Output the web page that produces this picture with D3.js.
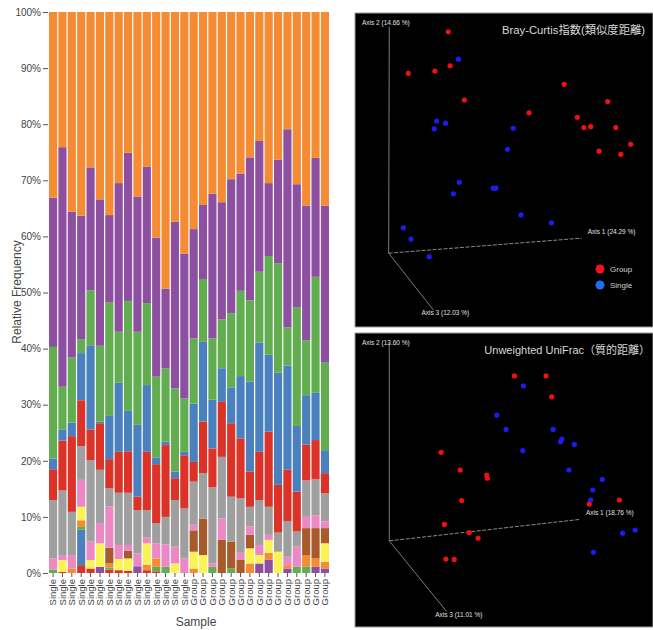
<!DOCTYPE html>
<html>
<head>
<meta charset="utf-8">
<script src="https://cdn.jsdelivr.net/npm/d3@7"></script>
<style>
  body { margin: 0; background: #fff; }
  text { font-family: "Liberation Sans", Arial, sans-serif; }
</style>
</head>
<body>
<div id="chart"></div>
<script>
// ---------------- data ----------------
// sample labels (x axis)
const samples = ["Single","Single","Single","Single","Single","Single","Single","Single","Single","Single","Single","Single","Single","Single","Single",
                 "Group","Group","Group","Group","Group","Group","Group","Group","Group","Group","Group","Group","Group","Group","Group"];

// taxa, bottom -> top of each stack (values in %)
const purpleMinor = [0,0,0,0,0,1.1,0,0,0,1.2,0,0,0,0,0,0,0,0,0,0,0,0,1.7,2.4,0,0.8,0,0,1.1,0.8];
const redMinor    = [0,0.2,0,1.4,0.8,0,0.6,0.5,0.4,0,0.5,0.3,0,0,0,0,0,0,0,0,0,0,0,0,0,0,0,0,0,0];
const blueMinor   = [0,0,0,6.3,0,0,0,0,0,0,0,0,0,0,0,0,0,0,0,0,0,0,0,0,0,0,0,0,0,0];
const greenMinor  = [0.6,0,0,0.5,0,0,0.4,0,0,0,0,0.8,1.1,0,0,0,0,1.1,0,0.8,0,0,0,0,0,0,1.1,1.1,0,0];
const orangeMinor = [0,0,0.8,1.2,0,0,0.7,0,0,0,1.0,1.5,0,0,0,0.8,0,0,0,0,0,1.7,0,1.2,0,0.6,0,2.1,1.5,1.2];
const yellow      = [0,2.1,0,2.4,1.5,4.2,0,2.0,2.2,0,3.8,0,0,1.7,0,3.0,3.2,0,0,0,0,2.7,1.5,2.3,3.8,0,0,0,0,3.3];
const brown       = [0,0,0,0,0,0,2.8,0,1.4,0,0,0,0,0,0,3.8,6.5,0,5.9,4.8,2.4,2.4,0,0,0,0,0,4.8,5.4,2.7];
const pink        = [2.0,0.9,2.4,4.8,3.3,3.6,7.4,2.5,1.0,2.3,1.0,2.7,4.0,3.0,2.6,1.0,0,0.6,3.8,0,1.2,1.5,1.8,0.9,0,1.5,3.6,2.0,2.3,1.2];
const gray        = [10.4,11.5,7.7,6.0,14.5,9.5,3.2,9.3,9.3,7.7,4.9,3.6,4.9,8.3,8.9,7.7,8.1,13.6,11.0,8.0,9.7,3.5,8.0,5.0,3.4,6.3,2.7,6.5,6.4,5.0];
const red         = [5.5,8.9,13.5,8.2,5.5,8.3,5.2,7.3,7.4,2.4,10.4,10.5,12.8,3.9,9.5,3.5,9.2,6.9,9.8,13.1,10.7,6.3,8.6,13.4,8.5,9.2,7.1,6.4,7.0,3.6];
const blue        = [1.9,2.0,2.4,8.4,15.0,0.3,7.7,12.3,7.2,12.8,11.9,1.2,0.6,1.2,0.6,10.4,14.2,8.7,6.0,6.4,11.1,16.0,19.5,13.7,20.0,18.6,11.7,8.8,8.5,4.1];
const green       = [19.9,7.6,11.6,2.5,9.8,13.5,20.2,9.1,19.6,16.6,14.6,14.4,13.1,14.8,9.5,11.6,11.2,10.9,8.7,13.2,15.2,14.5,12.6,17.6,19.5,6.8,21.2,9.8,20.6,15.6];
const purple      = [26.6,42.7,26.0,22.0,21.9,26.1,15.6,26.5,26.4,24.1,24.3,24.8,14.2,29.7,25.8,19.5,13.2,25.8,20.9,23.9,20.9,25.5,23.3,13.0,18.5,35.3,21.9,24.0,21.2,28.0];
const orange      = [33.1,24.1,35.6,36.3,27.7,33.4,36.2,30.5,25.1,32.9,27.6,40.2,49.3,37.4,43.1,38.7,34.4,32.4,33.9,29.8,28.8,25.9,23.0,30.5,26.3,20.9,30.7,34.5,26.0,34.5];

const yTicks = [0,0.1,0.2,0.3,0.4,0.5,0.6,0.7,0.8,0.9,1];

// PCoA projections (position in panel, 0-100 across / 0-100 up)
const bcGroupX  = [31.3,17.9,26.8,31.9,36.7,70.2,58.4,74.6,76.8,79.1,84.8,87.5,92.5,81.9,89.2];
const bcGroupY  = [94.0,80.8,81.5,83.2,72.3,77.3,68.2,66.8,63.5,63.8,71.8,63.5,58.2,56.0,55.0];
const bcSingleX = [34.7,27.4,30.4,26.6,53.1,51.2,35.0,33.0,46.4,47.3,55.7,65.9,16.2,18.8,24.9];
const bcSingleY = [85.3,65.6,64.9,63.1,63.3,56.6,46.1,42.4,44.2,44.2,35.7,33.2,31.6,28.0,22.4];

const ufGroupX  = [53.5,64.1,66.0,28.9,35.3,44.2,44.4,35.8,88.7,78.6,30.0,38.3,41.3,30.5,33.3];
const ufGroupY  = [85.4,85.4,78.3,59.4,53.4,51.7,50.6,43.0,43.2,41.8,34.9,32.1,30.2,23.1,23.0];
const ufSingleX = [56.5,47.6,50.7,66.5,69.4,69.0,73.6,56.3,71.8,83.0,79.8,79.1,89.8,94.0,80.0];
const ufSingleY = [82.0,72.1,67.2,67.2,63.9,63.0,62.1,60.0,53.4,50.2,46.6,43.2,31.9,33.0,25.4];

// ---------------- setup ----------------
const width = 653, height = 630;
const svg = d3.select("#chart").append("svg")
              .attr("width", width)
              .attr("height", height);

////////////////// stacked bar chart ////////////////////////////////////

const keys = ["purpleMinor","redMinor","blueMinor","greenMinor","orangeMinor","yellow","brown","pink","gray","red","blue","green","purple","orange"];
const series = {purpleMinor, redMinor, blueMinor, greenMinor, orangeMinor, yellow, brown, pink, gray, red, blue, green, purple, orange};
const colors = {
  purpleMinor: "#8d4f9f", redMinor: "#dc3329", blueMinor: "#4a80be", greenMinor: "#61ad50",
  orangeMinor: "#f58b32", yellow: "#fbf255", brown: "#a85a2a", pink: "#ec89c4",
  gray: "#9f9f9f", red: "#dc3329", blue: "#4a80be", green: "#61ad50",
  purple: "#8d4f9f", orange: "#f58b32"
};

// one row per sample
let rows = samples.map(function(s, i) {
  let r = {idx: i, sample: s};
  keys.forEach(function(k) { r[k] = series[k][i] / 100; });
  return r;
});

let x = d3.scaleBand()
          .domain(rows.map(function(d) { return d.idx }))
          .range([49, 329])
          .paddingInner(0.13)
          .paddingOuter(0);
let y = d3.scaleLinear()
          .domain([0, 1])
          .range([573, 12]);

let stacked = d3.stack().keys(keys)(rows);

let bars = svg.append("g");
bars.selectAll("g")
    .data(stacked)
    .enter()
    .append("g")
    .attr("fill", function(d) { return colors[d.key] })
    .selectAll("rect")
    .data(function(d) { return d })
    .enter()
    .append("rect")
    .attr("x", function(d) { return x(d.data.idx) })
    .attr("y", function(d) { return y(Math.min(d[1], 1)) })
    .attr("width", x.bandwidth())
    .attr("height", function(d) { return Math.max(0, y(d[0]) - y(Math.min(d[1], 1))) });

// y axis
let yAxis = svg.append("g")
               .attr("transform", "translate(48,0)")
               .call(d3.axisLeft(y)
                       .tickValues(yTicks)
                       .tickFormat(d3.format(".0%"))
                       .tickSize(5)
                       .tickPadding(2));
yAxis.select(".domain").remove();
yAxis.selectAll("line").attr("stroke", "#555");
yAxis.selectAll("text").attr("fill", "#444").style("font-size", "10px");

// x axis
let xAxis = svg.append("g")
               .attr("transform", "translate(0,573)")
               .call(d3.axisBottom(x)
                       .tickSize(4)
                       .tickFormat(function(i) { return samples[i] }));
xAxis.select(".domain").remove();
xAxis.selectAll("line").attr("stroke", "#555");
xAxis.selectAll("text")
     .attr("transform", "rotate(-90)")
     .attr("x", -6)
     .attr("y", 0)
     .attr("dy", "0.35em")
     .style("text-anchor", "end")
     .style("font-size", "9.5px")
     .attr("fill", "#444");

// axis titles
svg.append("text")
   .attr("transform", "translate(21,292) rotate(-90)")
   .style("text-anchor", "middle")
   .style("font-size", "12px")
   .attr("fill", "#444")
   .text("Relative Frequency");
svg.append("text")
   .attr("x", 196)
   .attr("y", 626)
   .style("text-anchor", "middle")
   .style("font-size", "12px")
   .attr("fill", "#444")
   .text("Sample");

////////////////// PCoA panels ////////////////////////////////////

function drawPanel(cfg) {
  let px = d3.scaleLinear().domain([0, 100]).range([cfg.left, cfg.right]);
  let py = d3.scaleLinear().domain([0, 100]).range([cfg.bottom, cfg.top]);
  let g = svg.append("g");

  g.append("rect")
   .attr("x", cfg.left).attr("y", cfg.top)
   .attr("width", cfg.right - cfg.left).attr("height", cfg.bottom - cfg.top)
   .attr("fill", "#000")
   .attr("stroke", "#9a9a9a")
   .attr("stroke-width", 1);

  // axes of the 3D view
  let o = cfg.origin;
  g.append("line")
   .attr("x1", px(o[0])).attr("y1", py(o[1]))
   .attr("x2", px(cfg.axis2[0])).attr("y2", py(cfg.axis2[1]))
   .attr("stroke", "#8a8a8a").attr("stroke-width", 0.9);
  g.append("line")
   .attr("x1", px(o[0])).attr("y1", py(o[1]))
   .attr("x2", px(cfg.axis1[0])).attr("y2", py(cfg.axis1[1]))
   .attr("stroke", "#9a9a9a").attr("stroke-width", 0.9)
   .attr("stroke-dasharray", "4,1.5");
  g.append("line")
   .attr("x1", px(o[0])).attr("y1", py(o[1]))
   .attr("x2", px(cfg.axis3[0])).attr("y2", py(cfg.axis3[1]))
   .attr("stroke", "#8a8a8a").attr("stroke-width", 0.9);

  // axis labels
  let small = function(t, xx, yy, anchor) {
    g.append("text")
     .attr("x", xx).attr("y", yy)
     .style("font-size", "6.5px")
     .style("text-anchor", anchor || "start")
     .attr("fill", "#e0e0e0")
     .text(t);
  };
  small(cfg.axis2Label, cfg.left + 7, cfg.top + 12);
  small(cfg.axis1Label, px(cfg.axis1[0]) + 6, py(cfg.axis1[1]) - 4);
  small(cfg.axis3Label, px(cfg.axis3[0]) + 12, py(cfg.axis3[1]) + 5, "middle");

  // title
  g.append("text")
   .attr("x", cfg.titleEnd)
   .attr("y", cfg.top + 21)
   .style("text-anchor", "end")
   .style("font-size", cfg.titleSize)
   .style("font-family", "'Liberation Sans', 'Noto Sans CJK JP', sans-serif")
   .attr("fill", "#d8d8d8")
   .text(cfg.title);

  // points
  g.selectAll(".single")
   .data(cfg.singleX)
   .enter()
   .append("circle")
   .attr("cx", function(d) { return px(d) })
   .attr("cy", function(d, i) { return py(cfg.singleY[i]) })
   .attr("r", 2.6)
   .attr("fill", "#1c1cf0");
  g.selectAll(".group")
   .data(cfg.groupX)
   .enter()
   .append("circle")
   .attr("cx", function(d) { return px(d) })
   .attr("cy", function(d, i) { return py(cfg.groupY[i]) })
   .attr("r", 2.6)
   .attr("fill", "#ee1111");

  // legend
  if (cfg.legend) {
    let lg = g.append("g").attr("transform", `translate(${cfg.left + 245},${cfg.top + 256})`);
    [["Group", "#f0141e"], ["Single", "#1e6cf2"]].forEach(function(e, i) {
      lg.append("circle").attr("cx", 0).attr("cy", i * 16).attr("r", 4.5).attr("fill", e[1]);
      lg.append("text").attr("x", 10).attr("y", i * 16 + 3)
        .style("font-size", "8px").attr("fill", "#d0d0d0").text(e[0]);
    });
  }
}

drawPanel({
  left: 355, right: 653, top: 13, bottom: 327,
  origin: [11.3, 23.5], axis2: [11.5, 95.6], axis1: [76.1, 28.3], axis3: [26.3, 5.4],
  axis1Label: "Axis 1 (24.29 %)", axis2Label: "Axis 2 (14.66 %)", axis3Label: "Axis 3 (12.03 %)",
  title: "Bray-Curtis指数(類似度距離)", titleEnd: 645, titleSize: "11.3px",
  groupX: bcGroupX, groupY: bcGroupY, singleX: bcSingleX, singleY: bcSingleY,
  legend: true
});

drawPanel({
  left: 355, right: 653, top: 333, bottom: 627,
  origin: [11.5, 29.3], axis2: [11.5, 96.6], axis1: [75.5, 36.6], axis3: [30.8, 5.2],
  axis1Label: "Axis 1 (18.76 %)", axis2Label: "Axis 2 (13.60 %)", axis3Label: "Axis 3 (11.01 %)",
  title: "Unweighted UniFrac（質的距離）", titleEnd: 650, titleSize: "11px",
  groupX: ufGroupX, groupY: ufGroupY, singleX: ufSingleX, singleY: ufSingleY,
  legend: false
});
</script>
</body>
</html>
